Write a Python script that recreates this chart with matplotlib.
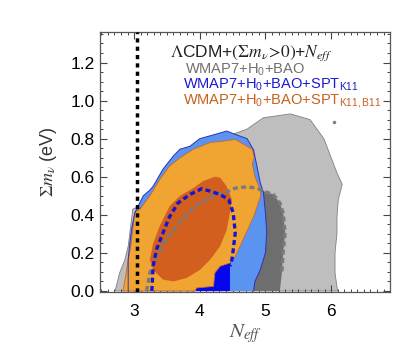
import matplotlib
matplotlib.use("Agg")
import matplotlib.pyplot as plt

plt.rcParams["font.family"] = ["Liberation Sans", "DejaVu Sans"]
plt.rcParams["mathtext.fontset"] = "stix"

# WMAP7+H0+BAO, 95% and 68% regions
gray95_x = [2.71, 2.78, 2.86, 2.91, 2.98, 3.19, 3.40, 3.70, 4.00, 4.30, 4.56, 4.72, 4.97,
            5.38, 5.68, 5.89, 5.99, 6.09, 6.17, 6.11, 6.09, 6.09, 6.06, 6.06, 6.09, 6.10]
gray95_y = [0.0, 0.095, 0.165, 0.235, 0.43, 0.46, 0.55, 0.68, 0.75, 0.79, 0.83, 0.85, 0.91,
            0.93, 0.90, 0.80, 0.71, 0.62, 0.56, 0.48, 0.39, 0.305, 0.20, 0.095, 0.02, 0.0]
gray68_x = [3.19, 3.24, 3.34, 3.49, 3.65, 3.82, 4.00, 4.21, 4.41, 4.54, 4.72, 4.87, 4.97,
            5.12, 5.22, 5.27, 5.30, 5.27, 5.25, 5.22]
gray68_y = [0.0, 0.095, 0.18, 0.27, 0.34, 0.41, 0.463, 0.50, 0.52, 0.54, 0.547, 0.54, 0.524,
            0.507, 0.463, 0.41, 0.305, 0.20, 0.095, 0.0]
gray_island_x = [6.04]
gray_island_y = [0.89]

# + SPT K11, 95% and 68% regions
blue95_x = [2.91, 2.91, 2.93, 2.96, 3.01, 3.14, 3.24, 3.29, 3.44, 3.60, 3.70, 3.85, 4.00,
            4.21, 4.41, 4.56, 4.72, 4.82, 4.87, 4.92, 4.97, 5.00, 5.02, 5.00, 4.92, 4.84, 4.82]
blue95_y = [0.0, 0.165, 0.235, 0.32, 0.41, 0.50, 0.53, 0.55, 0.64, 0.71, 0.745, 0.76, 0.80,
            0.82, 0.84, 0.82, 0.80, 0.74, 0.656, 0.57, 0.516, 0.41, 0.305, 0.20, 0.11, 0.05, 0.0]
blue68_x = [3.27, 3.29, 3.34, 3.44, 3.54, 3.67, 3.85, 4.03, 4.16, 4.31, 4.44, 4.51, 4.54,
            4.51, 4.49, 4.46, 4.46]
blue68_y = [0.0, 0.13, 0.217, 0.305, 0.39, 0.463, 0.507, 0.537, 0.524, 0.507, 0.48, 0.41,
            0.305, 0.217, 0.165, 0.13, 0.0]

# + SPT K11,B11, 95% and 68% regions
orange95_x = [2.83, 2.88, 2.91, 2.95, 2.98, 3.01, 3.09, 3.24, 3.39, 3.54, 3.70, 3.90, 4.16,
              4.36, 4.54, 4.72, 4.80, 4.83, 4.80, 4.84, 4.92, 4.93, 4.82, 4.66, 4.54, 4.46,
              4.31, 4.23, 4.21, 3.95, 3.93]
orange95_y = [0.0, 0.095, 0.165, 0.235, 0.32, 0.41, 0.43, 0.50, 0.585, 0.656, 0.70, 0.744,
              0.78, 0.787, 0.796, 0.76, 0.745, 0.70, 0.67, 0.60, 0.533, 0.50, 0.39, 0.27,
              0.18, 0.147, 0.13, 0.095, 0.024, 0.016, 0.0]
orange68_x = [4.23, 4.05, 3.90, 3.70, 3.54, 3.39, 3.29, 3.24, 3.29, 3.44, 3.60, 3.80, 4.00,
              4.16, 4.31, 4.41, 4.46, 4.49, 4.41, 4.31]
orange68_y = [0.60, 0.577, 0.54, 0.50, 0.445, 0.34, 0.25, 0.165, 0.11, 0.06, 0.05, 0.068,
              0.11, 0.165, 0.235, 0.32, 0.41, 0.48, 0.55, 0.595]

neff_std = 3.046

fig = plt.figure(figsize=(4.2, 3.56), dpi=100)
ax = fig.add_axes([0.238, 0.180, 0.691, 0.730])

ax.fill(gray95_x, gray95_y, fc="#bebebe", ec="#808080", lw=0.6, zorder=1)
ax.plot(gray_island_x, gray_island_y, "o", ms=1.5, color="#808080", zorder=1)
ax.fill(gray68_x, gray68_y, fc="#6e6e6e", ec="none", zorder=2)
ax.fill(blue95_x, blue95_y, fc="#5a94f0", ec="none", zorder=3)
ax.fill(blue68_x, blue68_y, fc="#0505ee", ec="none", zorder=4)
ax.fill(orange95_x, orange95_y, fc="#f0a432", ec="#c8682a", lw=0.6, zorder=5)
ax.fill(orange68_x, orange68_y, fc="#d25f1e", ec="none", zorder=6)
ax.plot(blue95_x, blue95_y, color="#3030b8", lw=0.7, zorder=7)
ax.plot(gray68_x[:-1], gray68_y[:-1], color="#7a7a7a", lw=2.4, dashes=(1.5, 1.0), zorder=8)
ax.plot(blue68_x[:-1], blue68_y[:-1], color="#1414d2", lw=2.4, dashes=(1.5, 1.0), zorder=9)
ax.axvline(neff_std, color="black", lw=2.5, dashes=(1.2, 1.2), zorder=10)

ax.set_xlim(2.48, 6.9)
ax.set_ylim(-0.005, 1.36)
ax.set_xticks([3, 4, 5, 6])
ax.set_yticks([0.0, 0.2, 0.4, 0.6, 0.8, 1.0, 1.2])
ax.set_yticklabels(["0.0", "0.2", "0.4", "0.6", "0.8", "1.0", "1.2"])
ax.set_xticks([x / 10 for x in range(25, 70)], minor=True)
ax.set_yticks([y / 20 for y in range(0, 28)], minor=True)
ax.tick_params(which="both", direction="in", top=True, right=True, color="#444444",
               labelsize=12.5)
ax.tick_params(which="major", length=5, width=0.8)
ax.tick_params(which="minor", length=2.5, width=0.7)
ax.tick_params(axis="x", pad=9)
ax.tick_params(axis="y", pad=4)
for s in ax.spines.values():
    s.set_color("#555555")
    s.set_linewidth(0.9)

ax.set_xlabel(r"$N_{eff}$", fontsize=15, color="#555555", labelpad=2)
ax.set_ylabel(r"$\Sigma m_\nu$ (eV)", fontsize=13, color="#333333", labelpad=8)

ax.text(0.241, 0.907, r"$\Lambda$CDM+$(\Sigma m_\nu\!>\!0)$+$N_{eff}$", transform=ax.transAxes,
        fontsize=12.5, color="#222222", va="baseline", zorder=11)
ax.text(0.293, 0.840, r"WMAP7+H$_\mathregular{0}$+BAO", transform=ax.transAxes,
        fontsize=10.5, color="#707070", va="baseline", zorder=11)
ax.text(0.287, 0.781, r"WMAP7+H$_\mathregular{0}$+BAO+SPT$_\mathregular{K11}$",
        transform=ax.transAxes, fontsize=10.5, color="#1a1ad2", va="baseline", zorder=11)
ax.text(0.287, 0.722, r"WMAP7+H$_\mathregular{0}$+BAO+SPT$_\mathregular{K11,B11}$",
        transform=ax.transAxes, fontsize=10.5, color="#c8601e", va="baseline", zorder=11)

fig.savefig("out.png", dpi=100)
